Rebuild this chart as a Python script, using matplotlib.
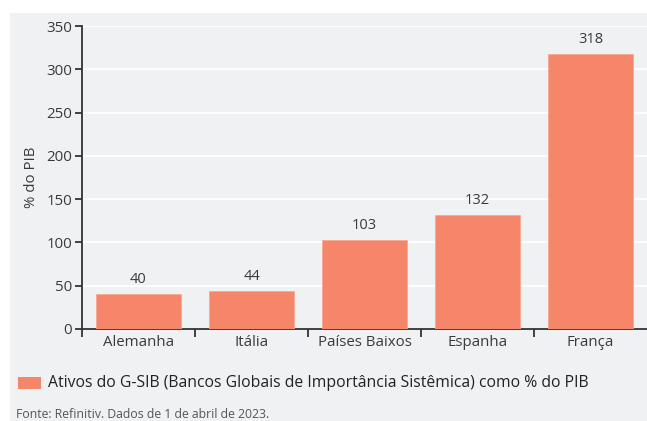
import matplotlib.pyplot as plt
from matplotlib.patches import Rectangle

# dados
paises = ["Alemanha", "Itália", "Países Baixos", "Espanha", "França"]
ativos_pib = [40, 44, 103, 132, 318]
y_ticks = [0, 50, 100, 150, 200, 250, 300, 350]

plt.rcParams['font.family'] = ['Open Sans', 'DejaVu Sans']
cor_barra = '#f5866a'
cor_texto = '#3a3a3a'
fundo = '#f0f1f3'

fig = plt.figure(figsize=(6.47, 4.21), dpi=100)
fig.patch.set_facecolor('white')
fig.patches.append(Rectangle((10 / 647, 0), 1, (421 - 13) / 421,
                             transform=fig.transFigure, facecolor=fundo,
                             edgecolor='none', zorder=-10))

ax = fig.add_axes([82 / 647, 1 - 329 / 421, 1 - 82 / 647, (329 - 26) / 421])
ax.set_facecolor(fundo)

x = range(len(paises))
barras = ax.bar(x, ativos_pib, width=0.75, color=cor_barra,
                edgecolor='#f8a892', linewidth=0.6, zorder=3)
for xi, v in zip(x, ativos_pib):
    ax.annotate(str(v), (xi, v), xytext=(0, 5), textcoords='offset points',
                ha='center', va='bottom', fontsize=10.5, color=cor_texto)

ax.set_xlim(-0.5, len(paises) - 0.5)
ax.set_ylim(0, 350)
ax.set_yticks(y_ticks)
ax.set_xticks(list(x))
ax.set_xticklabels(paises)
ax.set_xticks([i - 0.5 for i in range(len(paises))], minor=True)
ax.tick_params(axis='x', which='major', length=0, pad=4, labelsize=10.8,
               labelcolor=cor_texto)
ax.tick_params(axis='x', which='minor', length=6, width=1.3, color='#333333')
ax.tick_params(axis='y', length=5, width=1.3, color='#333333', labelsize=10.8,
               labelcolor=cor_texto, pad=2)

ax.grid(axis='y', color='white', linewidth=1.3, zorder=0)
ax.set_axisbelow(True)
for s in ['top', 'right']:
    ax.spines[s].set_visible(False)
for s in ['left', 'bottom']:
    ax.spines[s].set_color('#333333')
    ax.spines[s].set_linewidth(1.3)

ax.set_ylabel('% do PIB', fontsize=10.8, color=cor_texto, labelpad=5)

# legenda
fig.patches.append(Rectangle((18 / 647, 1 - 389 / 421), 23 / 647, 12 / 421,
                             transform=fig.transFigure, facecolor=cor_barra,
                             edgecolor='none'))
fig.text(48 / 647, 1 - 383 / 421,
         'Ativos do G-SIB (Bancos Globais de Importância Sistêmica) como % do PIB',
         fontsize=11.3, color='#222222', va='center', ha='left')

fig.text(16 / 647, 1 - 415 / 421, 'Fonte: Refinitiv. Dados de 1 de abril de 2023.',
         fontsize=8.8, color='#555555', va='center', ha='left')

fig.savefig('out.png', dpi=100, facecolor=fig.get_facecolor())
